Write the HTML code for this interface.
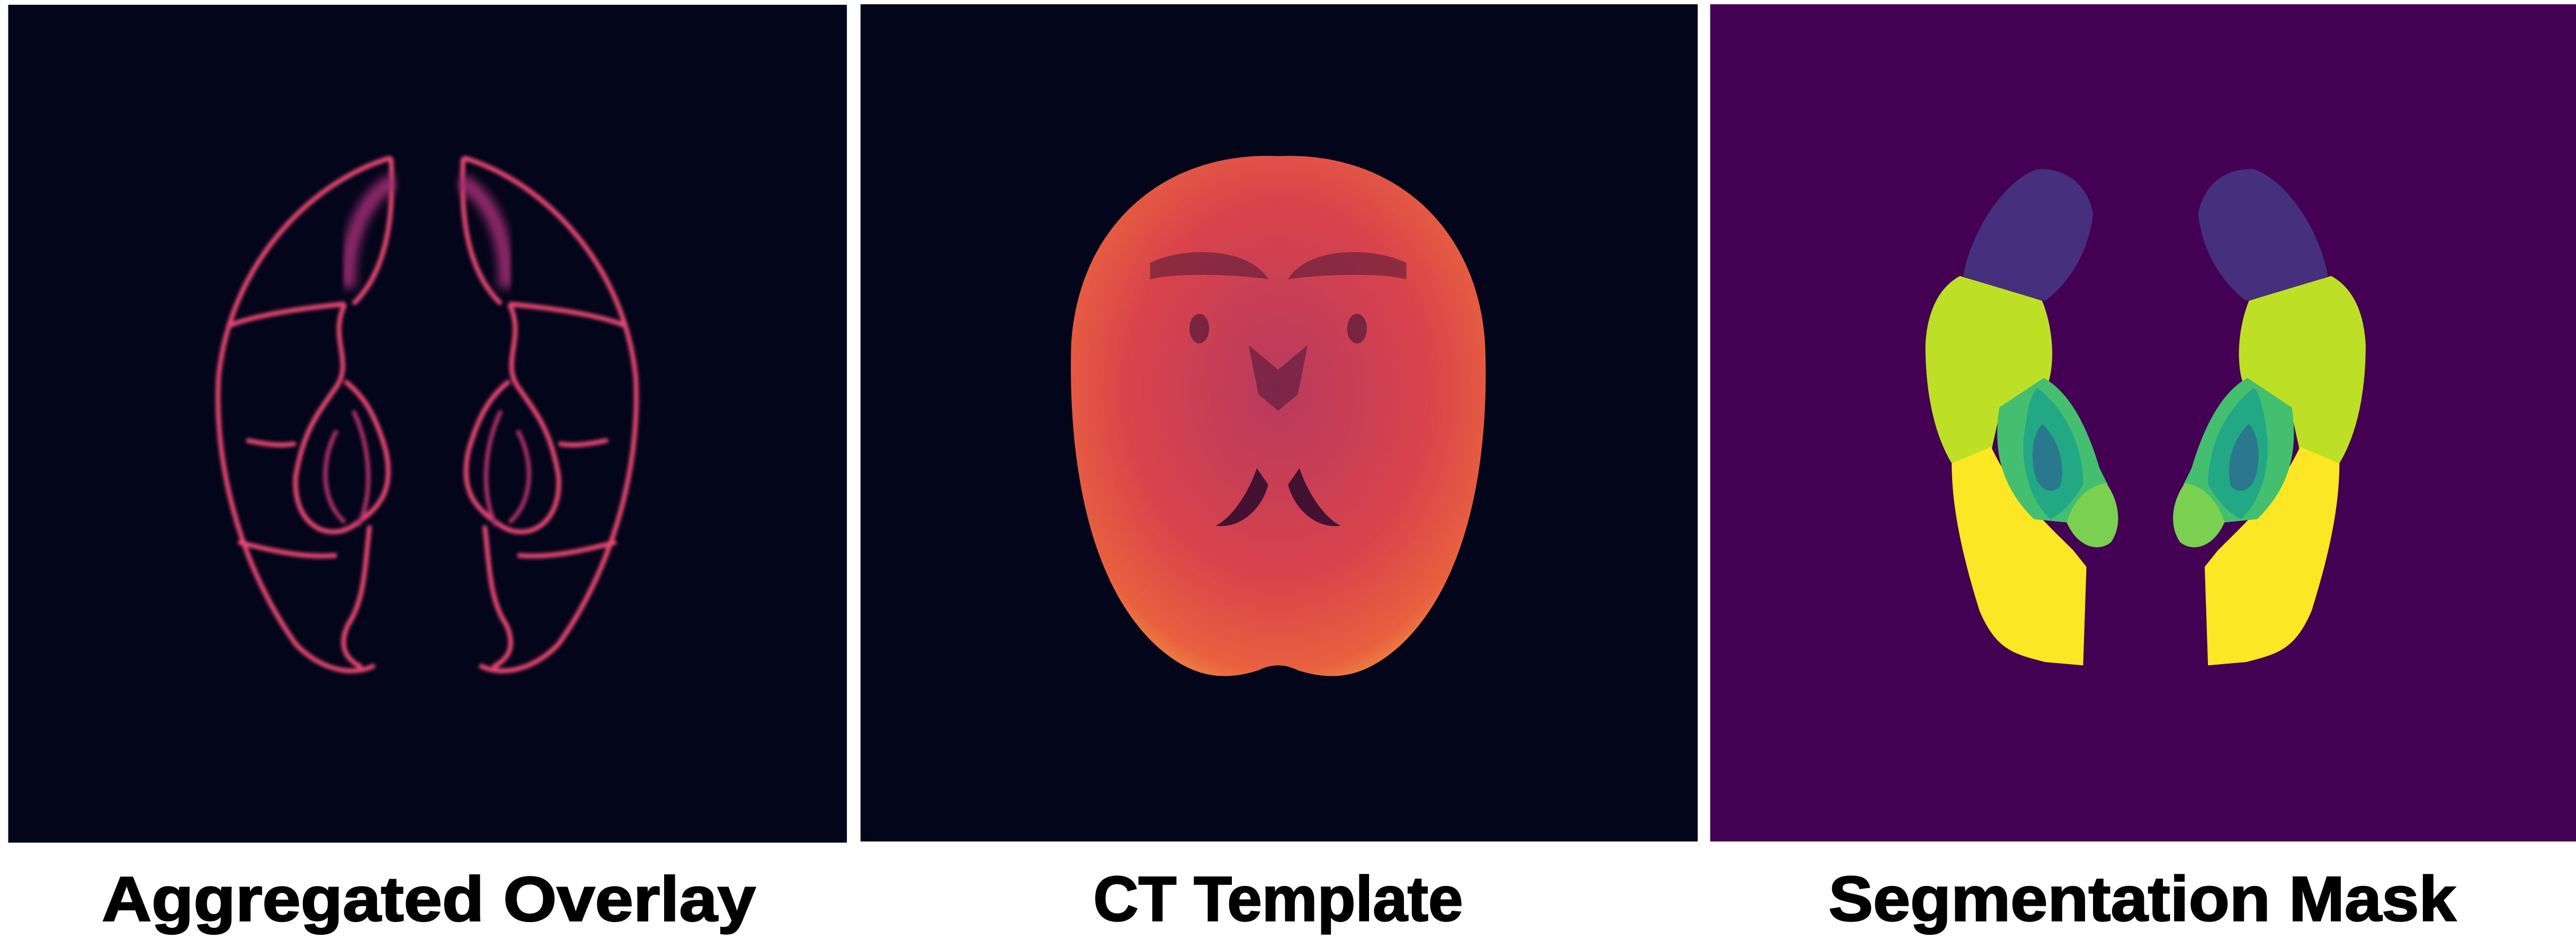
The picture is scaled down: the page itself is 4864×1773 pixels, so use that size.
<!DOCTYPE html>
<html><head><meta charset="utf-8">
<style>html,body{margin:0;padding:0;background:#fff;}svg{display:block;}</style>
</head><body>
<svg width="4864" height="1773" viewBox="0 0 1568 571.56" xmlns="http://www.w3.org/2000/svg">
<defs>
<filter id="blur1" x="-20%" y="-20%" width="140%" height="140%"><feGaussianBlur stdDeviation="1.1"/></filter>
<filter id="blur2"><feGaussianBlur stdDeviation="3"/></filter>
<radialGradient id="ctg" cx="50%" cy="45%" r="60%">
<stop offset="0" stop-color="#b83a5e"/><stop offset="0.6" stop-color="#d8434c"/><stop offset="0.9" stop-color="#e8603f"/><stop offset="1" stop-color="#f08a45"/>
</radialGradient>
</defs>
<g>
<rect x="5" y="2.9" width="510.5" height="510" fill="#03051a"/>
<g id="ovl" fill="none" stroke="#f04a72" stroke-width="2.8" filter="url(#blur1)">
<path d="M238,96 C190,110 140,160 133,230 C130,290 150,350 180,392 C195,408 215,412 228,405"/>
<path d="M238,96 C240,130 236,165 215,185 M210,185 C180,188 155,192 140,198"/>
<path d="M210,185 C200,205 215,220 205,235 C195,250 185,260 180,290 C178,320 200,330 215,320 C230,310 240,300 235,275 C228,250 220,240 210,232"/>
<path d="M205,262 C195,280 195,305 210,318 M215,250 C225,270 228,300 218,320" stroke="#b8306e" stroke-width="2.5"/>
<path d="M150,268 C160,270 170,272 180,270"/>
<path d="M225,320 C222,345 222,365 212,380 C205,395 212,402 220,406"/>
<path d="M145,330 C165,335 185,340 205,338"/>
<path d="M240,110 C220,120 210,150 212,175" stroke="#9a2a70" stroke-width="9" filter="url(#blur2)"/>
</g>
<use href="#ovl" transform="translate(520,0) scale(-1,1)"/>
</g>
<g>
<rect x="523.8" y="2.6" width="509.6" height="509.6" fill="#03051a"/>
<path fill="url(#ctg)" d="M778,95 C850,92 900,140 904,210 C907,290 890,360 850,395 C830,412 812,415 790,408 Q778,402 766,408 C744,415 726,412 706,395 C666,360 650,290 652,210 C656,140 706,92 778,95 Z"/>
<g fill="#2a0a2e" opacity="0.85">
<path d="M765,285 C760,300 750,315 740,320 C755,322 768,310 772,295 Z"/>
<path d="M791,285 C796,300 806,315 816,320 C801,322 788,310 784,295 Z"/>
<path d="M700,160 C720,150 760,150 772,170 C760,168 720,165 700,170 Z" opacity="0.5"/>
<path d="M856,160 C836,150 796,150 784,170 C796,168 836,165 856,170 Z" opacity="0.5"/>
<ellipse cx="730" cy="200" rx="6" ry="9" opacity="0.6"/><ellipse cx="826" cy="200" rx="6" ry="9" opacity="0.6"/>
<path d="M760,210 L778,225 L796,210 L790,240 L778,250 L766,240 Z" opacity="0.5"/>
</g>
</g>
<g>
<rect x="1041" y="2.6" width="527" height="509.6" fill="#440154"/>
<g id="seg">
<path fill="#46307e" d="M1240,103 C1255,102 1270,110 1274,130 C1272,150 1262,170 1245,183 L1215,176 L1195,168 C1200,140 1220,110 1240,103 Z"/>
<path fill="#bddf26" d="M1193,168 L1243,183 C1250,200 1252,225 1244,240 L1218,248 L1212,275 L1188,282 C1176,262 1172,235 1172,210 C1173,190 1180,175 1193,168 Z"/>
<path fill="#fde725" d="M1188,282 L1212,272 C1225,300 1245,318 1262,335 L1270,345 L1268,405 L1245,403 C1225,398 1215,395 1205,372 C1195,340 1188,310 1188,282 Z"/>
<path fill="#44bf70" d="M1217,248 L1244,230 C1262,240 1272,265 1278,285 L1283,295 C1272,298 1265,305 1258,318 L1238,316 C1222,300 1212,280 1217,248 Z"/>
<path fill="#22a884" d="M1240,236 C1258,250 1268,272 1268,295 C1262,305 1256,312 1248,316 C1236,305 1230,285 1232,265 C1234,250 1236,240 1240,236 Z"/>
<path fill="#2a788e" d="M1243,258 C1252,266 1258,282 1254,296 C1248,302 1240,298 1238,286 C1236,274 1238,264 1243,258 Z"/>
<path fill="#7ad151" d="M1258,318 C1262,305 1270,296 1282,294 C1290,305 1292,320 1285,330 C1278,336 1265,334 1258,318 Z"/>
</g>
<use href="#seg" transform="translate(2612,0) scale(-1,1)"/>
</g>
<g font-family="'Liberation Sans', sans-serif" font-weight="bold" font-size="38.5" fill="#000" stroke="#000" stroke-width="0.8" text-anchor="middle">
<text x="261" y="560.5" textLength="398" lengthAdjust="spacingAndGlyphs">Aggregated Overlay</text>
<text x="778" y="560.5" textLength="225" lengthAdjust="spacingAndGlyphs">CT Template</text>
<text x="1304" y="560.5" textLength="382" lengthAdjust="spacingAndGlyphs">Segmentation Mask</text>
</g>
</svg>
</body></html>
